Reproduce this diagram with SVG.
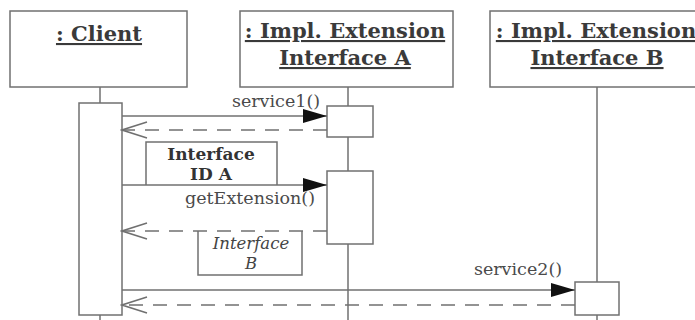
<svg xmlns="http://www.w3.org/2000/svg" width="695" height="320" viewBox="0 0 695 320">
<style>
.box{fill:#fff;stroke:#707070;stroke-width:1.5}
.life{stroke:#707070;stroke-width:1.5;fill:none}
.msg{stroke:#707070;stroke-width:1.5;fill:none}
.ret{stroke:#707070;stroke-width:1.5;fill:none;stroke-dasharray:14 10}
.hd{font-family:"DejaVu Serif",serif;font-weight:bold;font-size:21px;fill:#3a3a3a;text-anchor:middle;text-decoration:underline}
.lbl{font-family:"DejaVu Serif",serif;font-size:17.5px;fill:#4a4a4a;text-anchor:middle}
.note{font-family:"DejaVu Serif",serif;font-weight:bold;font-size:17px;fill:#333;text-anchor:middle}
.noteI{font-family:"DejaVu Serif",serif;font-style:italic;font-size:16.5px;fill:#444;text-anchor:middle}
</style>
<defs>
<marker id="fill" markerUnits="userSpaceOnUse" markerWidth="24" markerHeight="14" viewBox="0 0 24 14" refX="24" refY="7" orient="auto">
<path d="M0,0 L24,7 L0,14 z" fill="#111"/>
</marker>
<marker id="open" markerUnits="userSpaceOnUse" markerWidth="28" markerHeight="20" viewBox="0 0 28 20" refX="26" refY="10" orient="auto">
<path d="M1,2 L26,10 L1,18" fill="none" stroke="#707070" stroke-width="1.5"/>
</marker>
</defs>

<g id="client">
<rect class="box" x="10" y="11" width="177" height="76"/>
<text class="hd" x="99" y="41">: Client</text>
<line class="life" x1="100" y1="87" x2="100" y2="320"/>
<rect class="box" x="79" y="103" width="43" height="212"/>
</g>

<g id="implA">
<rect class="box" x="240" y="11" width="213" height="76"/>
<text class="hd" x="345" y="38">: Impl. Extension</text>
<text class="hd" x="345" y="65">Interface A</text>
<line class="life" x1="348" y1="87" x2="348" y2="320"/>
<rect class="box" x="327" y="106" width="46" height="31"/>
<rect class="box" x="327" y="171" width="46" height="73"/>
</g>

<g id="implB">
<rect class="box" x="490" y="11" width="210" height="76"/>
<text class="hd" x="596" y="38">: Impl. Extension</text>
<text class="hd" x="597" y="65">Interface B</text>
<line class="life" x1="597" y1="87" x2="597" y2="320"/>
<rect class="box" x="575" y="282" width="44" height="33"/>
</g>

<g id="connectors">
<line class="msg" x1="122" y1="116" x2="327" y2="116" marker-end="url(#fill)"/>
<line class="ret" x1="327" y1="130" x2="122" y2="130" marker-end="url(#open)"/>
<line class="msg" x1="122" y1="185" x2="327" y2="185" marker-end="url(#fill)"/>
<line class="ret" x1="327" y1="231" x2="122" y2="231" marker-end="url(#open)"/>
<line class="msg" x1="122" y1="290" x2="575" y2="290" marker-end="url(#fill)"/>
<line class="ret" x1="575" y1="305" x2="122" y2="305" marker-end="url(#open)"/>
</g>

<g id="labels">
<text class="lbl" x="276" y="107">service1()</text>
<text class="lbl" x="250" y="204">getExtension()</text>
<text class="lbl" x="518" y="275">service2()</text>
</g>

<g id="noteA">
<path class="life" d="M146,185 L146,142 L277,142 L277,185"/>
<text class="note" x="211" y="160">Interface</text>
<text class="note" x="211" y="180">ID A</text>
</g>

<g id="noteB">
<path class="life" d="M198,231 L198,275 L302,275 L302,231"/>
<text class="noteI" x="251" y="249">Interface</text>
<text class="noteI" x="251" y="269">B</text>
</g>
</svg>
